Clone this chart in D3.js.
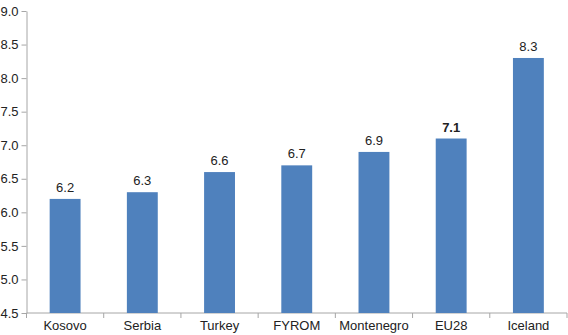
<!DOCTYPE html>
<html><head><meta charset="utf-8">
<script src="https://cdnjs.cloudflare.com/ajax/libs/d3/7.8.5/d3.min.js"></script>
<style>body{margin:0;background:#fff}svg{display:block;font-family:"Liberation Sans",Arial,sans-serif}</style>
</head><body><svg id="c" width="568" height="335"></svg>
<script>
const categories = ["Kosovo","Serbia","Turkey","FYROM","Montenegro","EU28","Iceland"];
const values = [6.2,6.3,6.6,6.7,6.9,7.1,8.3];
const yTicks = [4.5,5.0,5.5,6.0,6.5,7.0,7.5,8.0,8.5,9.0];
const boldCategory = "EU28";

const svg = d3.select("#c");
const mLeft = 26.5, mRight = 567, mTop = 11, mBottom = 313;
const x = d3.scaleBand().domain(categories).range([mLeft, mRight]).paddingInner(0.6).paddingOuter(0.3);
const y = d3.scaleLinear().domain([4.5, 9.0]).range([mBottom, mTop]);
const axisColor = "#a6a6a6";
const fs = 13;

// y axis
const ya = svg.append("g").attr("transform", `translate(${mLeft},0)`)
  .call(d3.axisLeft(y).tickValues(yTicks).tickFormat(d3.format(".1f")).tickSize(5).tickSizeOuter(0));
ya.select(".domain").attr("stroke", axisColor);
ya.selectAll(".tick line").attr("stroke", axisColor);
ya.selectAll(".tick text").attr("font-size", fs).attr("fill", "#222").attr("x", -8)
  .attr("font-family", "Liberation Sans, Arial, sans-serif");

// x axis line and boundary ticks
svg.append("line").attr("x1", mLeft).attr("x2", mRight).attr("y1", mBottom).attr("y2", mBottom).attr("stroke", axisColor);
const bounds = d3.range(categories.length + 1).map(i => mLeft + (mRight - mLeft) * i / categories.length);
svg.selectAll(".xt").data(bounds).join("line")
  .attr("x1", d => d).attr("x2", d => d).attr("y1", mBottom).attr("y2", mBottom + 5).attr("stroke", axisColor);
svg.selectAll(".xl").data(categories).join("text")
  .attr("x", d => x(d) + x.bandwidth() / 2).attr("y", mBottom + 17)
  .attr("text-anchor", "middle").attr("font-size", fs).attr("fill", "#222").text(d => d);

// bars
svg.selectAll(".bar").data(values).join("rect")
  .attr("x", (d, i) => x(categories[i])).attr("width", x.bandwidth())
  .attr("y", d => y(d)).attr("height", d => mBottom - y(d)).attr("fill", "#4f81bd");

// value labels
svg.selectAll(".vl").data(values).join("text")
  .attr("x", (d, i) => x(categories[i]) + x.bandwidth() / 2).attr("y", d => y(d) - 7)
  .attr("text-anchor", "middle").attr("font-size", fs).attr("fill", "#222")
  .attr("font-weight", (d, i) => categories[i] === boldCategory ? "bold" : "normal")
  .text(d => d.toFixed(1));
</script></body></html>
